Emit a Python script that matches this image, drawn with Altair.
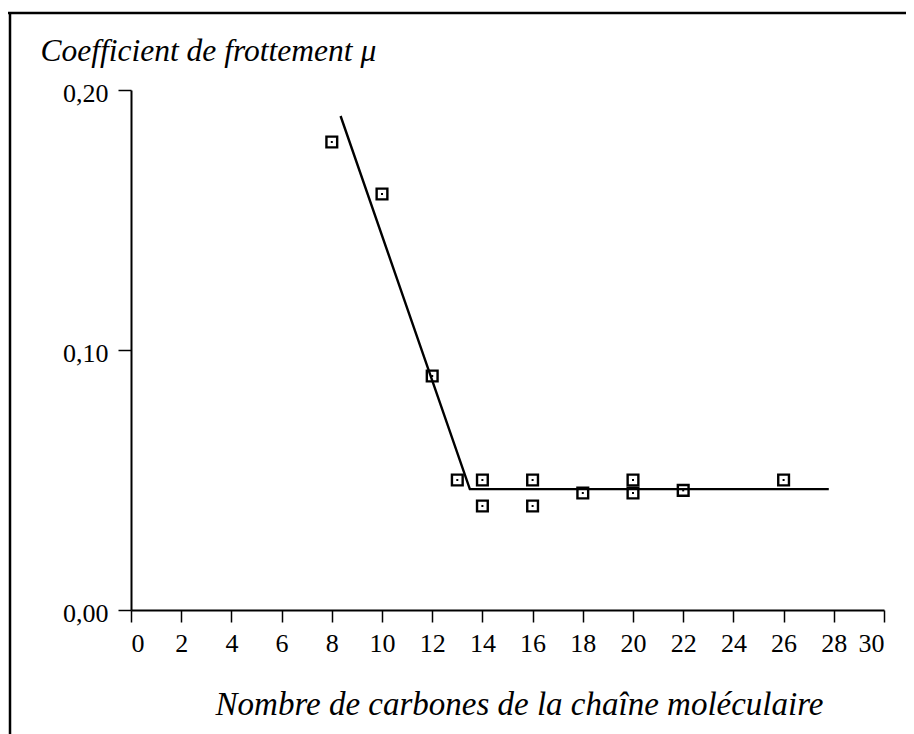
import altair as alt
import pandas as pd

# Measured points
carbons = [8, 10, 12, 13, 14, 14, 16, 16, 18, 20, 20, 22, 26]
mu = [0.18, 0.16, 0.09, 0.05, 0.05, 0.04, 0.05, 0.04, 0.045, 0.05, 0.045, 0.046, 0.05]

# Fitted broken line
fit_x = [8.35, 13.5, 27.8]
fit_y = [0.19, 0.0465, 0.0465]

x_ticks = list(range(0, 31, 2))
y_ticks = [0.0, 0.1, 0.2]

FONT = "Liberation Serif"

pts = pd.DataFrame({"x": carbons, "y": mu})
fit = pd.DataFrame({"x": fit_x, "y": fit_y, "o": [0, 1, 2]})

xscale = alt.Scale(domain=[0, 30], nice=False, zero=False)
yscale = alt.Scale(domain=[0, 0.2], nice=False)

xaxis = alt.Axis(
    values=x_ticks, grid=False, domainColor="black", domainWidth=2,
    tickColor="black", tickWidth=1.5, tickSize=12,
    labelFont=FONT, labelFontSize=26, labelColor="black", labelPadding=8,
    title="Nombre de carbones de la chaîne moléculaire",
    titleFont=FONT, titleFontStyle="italic", titleFontWeight="normal",
    titleFontSize=33, titleColor="black",
    titleX=388, titleY=104, titleAlign="center", titleBaseline="alphabetic",
)
yaxis = alt.Axis(
    values=y_ticks, grid=False, domainColor="black", domainWidth=2,
    tickColor="black", tickWidth=1.5, tickSize=13,
    labelFont=FONT, labelFontSize=26, labelColor="black", labelPadding=10,
    labelExpr="replace(format(datum.value, '.2f'), '.', ',')",
    labelOffset=3,
    title="Coefficient de frottement μ",
    titleFont=FONT, titleFontStyle="italic", titleFontWeight="normal",
    titleFontSize=31.5, titleColor="black", titleAngle=0,
    titleX=-91, titleY=-30, titleAlign="left", titleBaseline="alphabetic",
)

base_x = alt.X("x:Q", scale=xscale, axis=xaxis)
base_y = alt.Y("y:Q", scale=yscale, axis=yaxis)

line = alt.Chart(fit).mark_line(color="black", strokeWidth=2.4).encode(
    x=base_x, y=base_y, order="o:Q"
)

squares = alt.Chart(pts).mark_point(
    shape="square", filled=False, color="black", size=115, strokeWidth=2.4, opacity=1
).encode(x=alt.X("x:Q", scale=xscale), y=alt.Y("y:Q", scale=yscale))

dots = alt.Chart(pts).mark_point(
    shape="square", filled=True, color="black", size=4, opacity=1
).encode(x=alt.X("x:Q", scale=xscale), y=alt.Y("y:Q", scale=yscale))

# page frame (decorative)
frame_top = alt.Chart(pd.DataFrame({"a": [0]})).mark_rule(color="black", strokeWidth=2.5).encode(
    x=alt.value(-125), x2=alt.value(790), y=alt.value(-77)
)
frame_left = alt.Chart(pd.DataFrame({"a": [0]})).mark_rule(color="black", strokeWidth=2.5).encode(
    x=alt.value(-121), y=alt.value(-78), y2=alt.value(650)
)

chart = alt.layer(frame_top, frame_left, line, squares, dots).properties(
    width=753, height=520,
    autosize=alt.AutoSizeParams(type="none"),
    padding={"left": 123, "top": 82, "right": 22, "bottom": 124},
).configure(background="white").configure_view(stroke=None, strokeWidth=0)

chart.save("out.html", embed_options={"renderer": "svg", "actions": False})
